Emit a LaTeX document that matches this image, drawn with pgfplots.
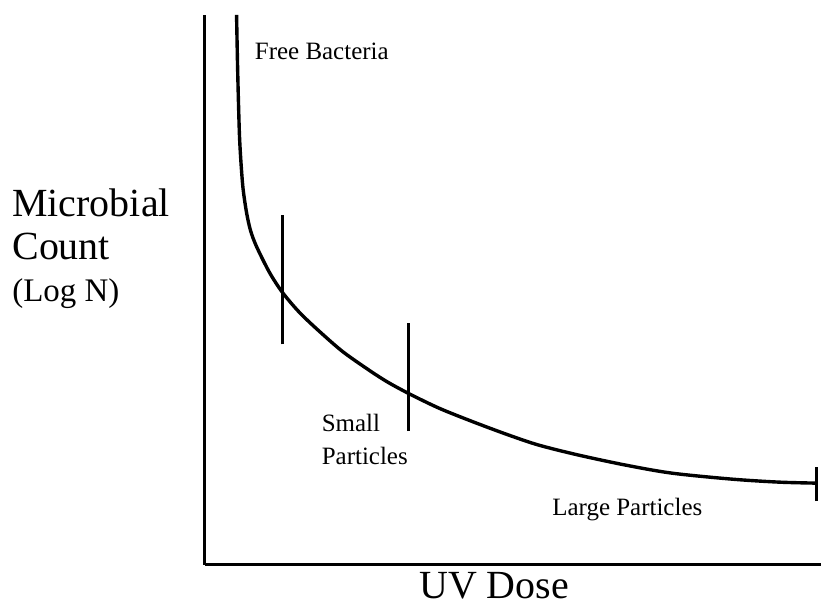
\documentclass[border=0pt]{standalone}
\usepackage{fontspec}
\setmainfont{Liberation Serif}
\usepackage{pgfplots}
\pgfplotsset{compat=1.18}
\begin{document}
\begin{tikzpicture}
\begin{axis}[
  scale only axis,
  width=308.5pt, height=275.5pt,
  xmin=205, xmax=822, ymin=0, ymax=551,
  axis x line*=bottom, axis y line*=left,
  x axis line style={-, line width=1.5pt},
  y axis line style={-, line width=1.5pt},
  xtick=\empty, ytick=\empty,
  clip=false,
]
% bounding box of the whole picture (822 x 613 px)
\path (axis cs:0,-47) rectangle (axis cs:822,566);
% curve
\addplot[black, line width=1.7pt, smooth, tension=0.5] coordinates {
(237,551) (238,500) (239,460) (240,428) (241.5,402) (243.5,377) (247,353)
(251,335) (257,319) (270,293) (283,273) (300,253) (320,234) (343,214)
(367,197) (387,184) (409,172) (440,157) (475,143) (510,130) (540,120)
(580,110) (627,100) (673,92) (733,86) (780,83) (817,82)
};
% division marks
\addplot[black, line width=1.5pt] coordinates {(283,221) (283,351)};
\addplot[black, line width=1.5pt] coordinates {(409,134) (409,242)};
\addplot[black, line width=1.5pt] coordinates {(818,64) (818,98)};
% labels
\node[anchor=base west, font=\fontsize{12.5}{14}\selectfont, inner sep=0pt] at (axis cs:255,506) {Free Bacteria};
\node[anchor=base west, font=\fontsize{12.5}{14}\selectfont, inner sep=0pt] at (axis cs:322,134) {Small};
\node[anchor=base west, font=\fontsize{12.5}{14}\selectfont, inner sep=0pt] at (axis cs:322,101) {Particles};
\node[anchor=base west, font=\fontsize{12.5}{14}\selectfont, inner sep=0pt] at (axis cs:553,50) {Large Particles};
\node[anchor=base west, font=\fontsize{20}{22}\selectfont, inner sep=0pt] at (axis cs:12,349) {Microbial};
\node[anchor=base west, font=\fontsize{20}{22}\selectfont, inner sep=0pt] at (axis cs:12,306) {Count};
\node[anchor=base west, font=\fontsize{16.5}{18}\selectfont, inner sep=0pt] at (axis cs:12,264) {(Log N)};
\node[anchor=base, font=\fontsize{20}{22}\selectfont, inner sep=0pt] at (axis cs:495,-34) {UV Dose};
\end{axis}
\end{tikzpicture}
\end{document}
